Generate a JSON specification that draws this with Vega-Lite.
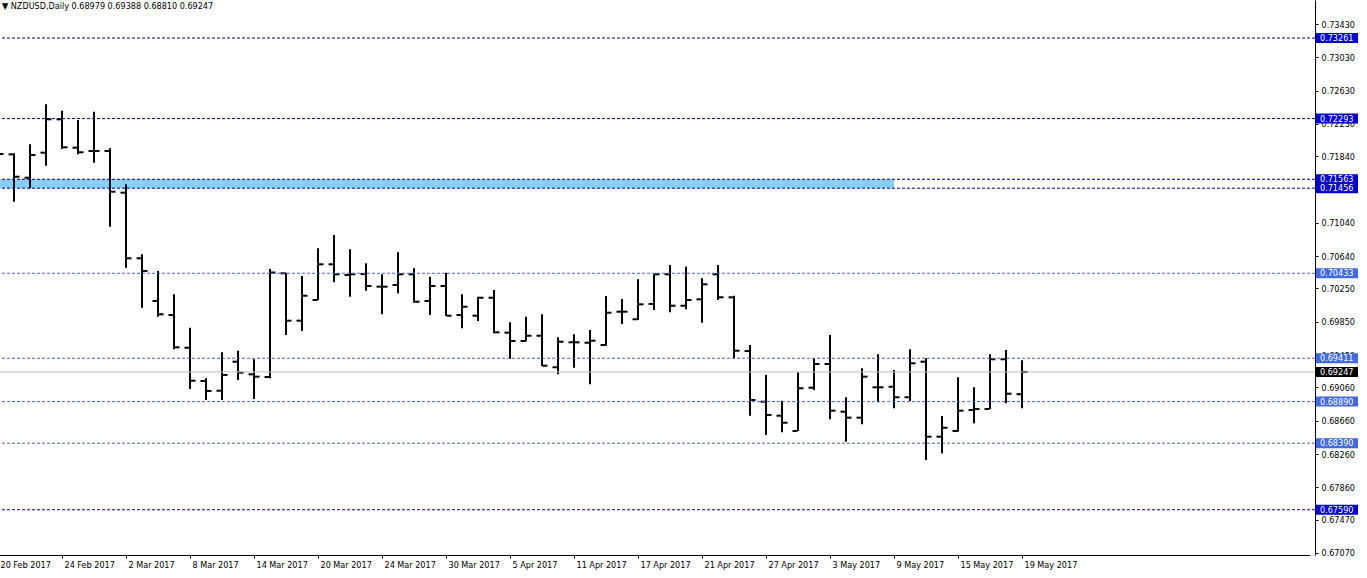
{
 "$schema": "https://vega.github.io/schema/vega-lite/v6.json",
 "width": 1315,
 "height": 555,
 "autosize": {"type": "none"},
 "padding": {"left": 0, "top": 0, "right": 52, "bottom": 23},
 "background": "white",
 "resolve": {"scale": {"color": "independent"}},
 "config": {
  "view": {"stroke": null},
  "axis": {"labelFont": "DejaVu Sans Condensed, Liberation Sans, sans-serif", "labelFontSize": 9, "labelColor": "black", "domainColor": "black", "tickColor": "black", "grid": false, "title": null, "labelOverlap": false},
  "axisY": {"orient": "right", "format": ".5f", "tickSize": 3, "labelPadding": 3, "labelBaseline": "middle", "labelBound": false, "labelOverlap": false, "labelFlush": false, "domainWidth": 1, "tickWidth": 1}
 },
 "title": {"text": "▼ NZDUSD,Daily  0.68979 0.69388 0.68810 0.69247", "anchor": "start", "frame": "group", "baseline": "top", "offset": -11, "dx": 2, "font": "DejaVu Sans Condensed, Liberation Sans, sans-serif", "fontSize": 9, "fontWeight": "normal", "color": "black"},
 "datasets": {
  "levels": [
   {"p": 0.73261, "kind": "dark"},
   {"p": 0.72293, "kind": "dark"},
   {"p": 0.71563, "kind": "dark"},
   {"p": 0.71456, "kind": "dark"},
   {"p": 0.70433, "kind": "light"},
   {"p": 0.69411, "kind": "light"},
   {"p": 0.68890, "kind": "light"},
   {"p": 0.68390, "kind": "light"},
   {"p": 0.67590, "kind": "dark"}
  ],
  "last": [{"p": 0.69247}],
  "zone": [{"d": "20 Feb 2017", "d2": "9 May 2017", "top": 0.71563, "bottom": 0.71456}],
  "ohlc": [
   {"d": "20 Feb 2017", "o": 0.7178, "h": 0.7195, "l": 0.7168, "c": 0.71867},
   {"d": "21 Feb 2017", "o": 0.71863, "h": 0.71876, "l": 0.71294, "c": 0.71594},
   {"d": "22 Feb 2017", "o": 0.71582, "h": 0.71984, "l": 0.71455, "c": 0.71855},
   {"d": "23 Feb 2017", "o": 0.71883, "h": 0.72465, "l": 0.71726, "c": 0.72284},
   {"d": "24 Feb 2017", "o": 0.72284, "h": 0.72388, "l": 0.71927, "c": 0.71948},
   {"d": "27 Feb 2017", "o": 0.71943, "h": 0.72276, "l": 0.71863, "c": 0.71888},
   {"d": "28 Feb 2017", "o": 0.71903, "h": 0.72376, "l": 0.71763, "c": 0.71903},
   {"d": "1 Mar 2017", "o": 0.71903, "h": 0.71936, "l": 0.70993, "c": 0.71414},
   {"d": "2 Mar 2017", "o": 0.71402, "h": 0.71503, "l": 0.70500, "c": 0.70613},
   {"d": "3 Mar 2017", "o": 0.70613, "h": 0.70661, "l": 0.70019, "c": 0.70460},
   {"d": "6 Mar 2017", "o": 0.70100, "h": 0.70460, "l": 0.69911, "c": 0.69940},
   {"d": "7 Mar 2017", "o": 0.69931, "h": 0.70180, "l": 0.69519, "c": 0.69543},
   {"d": "8 Mar 2017", "o": 0.69538, "h": 0.69779, "l": 0.69042, "c": 0.69141},
   {"d": "9 Mar 2017", "o": 0.69138, "h": 0.69170, "l": 0.68909, "c": 0.69018},
   {"d": "10 Mar 2017", "o": 0.69021, "h": 0.69483, "l": 0.68909, "c": 0.69210},
   {"d": "13 Mar 2017", "o": 0.69370, "h": 0.69502, "l": 0.69150, "c": 0.69238},
   {"d": "14 Mar 2017", "o": 0.69218, "h": 0.69399, "l": 0.68921, "c": 0.69190},
   {"d": "15 Mar 2017", "o": 0.69186, "h": 0.70484, "l": 0.69170, "c": 0.70442},
   {"d": "16 Mar 2017", "o": 0.70433, "h": 0.70440, "l": 0.69691, "c": 0.69863},
   {"d": "17 Mar 2017", "o": 0.69863, "h": 0.70400, "l": 0.69739, "c": 0.70163},
   {"d": "20 Mar 2017", "o": 0.70112, "h": 0.70733, "l": 0.70112, "c": 0.70541},
   {"d": "21 Mar 2017", "o": 0.70541, "h": 0.70893, "l": 0.70325, "c": 0.70421},
   {"d": "22 Mar 2017", "o": 0.70412, "h": 0.70721, "l": 0.70151, "c": 0.70421},
   {"d": "23 Mar 2017", "o": 0.70424, "h": 0.70553, "l": 0.70224, "c": 0.70280},
   {"d": "24 Mar 2017", "o": 0.70272, "h": 0.70421, "l": 0.69940, "c": 0.70272},
   {"d": "27 Mar 2017", "o": 0.70292, "h": 0.70685, "l": 0.70192, "c": 0.70421},
   {"d": "28 Mar 2017", "o": 0.70421, "h": 0.70493, "l": 0.70079, "c": 0.70091},
   {"d": "29 Mar 2017", "o": 0.70100, "h": 0.70392, "l": 0.69931, "c": 0.70280},
   {"d": "30 Mar 2017", "o": 0.70280, "h": 0.70440, "l": 0.69919, "c": 0.69923},
   {"d": "31 Mar 2017", "o": 0.69931, "h": 0.70180, "l": 0.69771, "c": 0.70031},
   {"d": "3 Apr 2017", "o": 0.69923, "h": 0.70151, "l": 0.69859, "c": 0.70139},
   {"d": "4 Apr 2017", "o": 0.70139, "h": 0.70232, "l": 0.69711, "c": 0.69723},
   {"d": "5 Apr 2017", "o": 0.69719, "h": 0.69844, "l": 0.69402, "c": 0.69619},
   {"d": "6 Apr 2017", "o": 0.69619, "h": 0.69911, "l": 0.69613, "c": 0.69682},
   {"d": "7 Apr 2017", "o": 0.69682, "h": 0.69940, "l": 0.69318, "c": 0.69322},
   {"d": "10 Apr 2017", "o": 0.69303, "h": 0.69663, "l": 0.69218, "c": 0.69610},
   {"d": "11 Apr 2017", "o": 0.69603, "h": 0.69699, "l": 0.69298, "c": 0.69603},
   {"d": "12 Apr 2017", "o": 0.69598, "h": 0.69751, "l": 0.69098, "c": 0.69622},
   {"d": "13 Apr 2017", "o": 0.69571, "h": 0.70160, "l": 0.69562, "c": 0.69959},
   {"d": "14 Apr 2017", "o": 0.69971, "h": 0.70124, "l": 0.69823, "c": 0.69971},
   {"d": "17 Apr 2017", "o": 0.69880, "h": 0.70361, "l": 0.69871, "c": 0.70060},
   {"d": "18 Apr 2017", "o": 0.70064, "h": 0.70421, "l": 0.69991, "c": 0.70421},
   {"d": "19 Apr 2017", "o": 0.70421, "h": 0.70533, "l": 0.69964, "c": 0.70043},
   {"d": "20 Apr 2017", "o": 0.70043, "h": 0.70512, "l": 0.70000, "c": 0.70112},
   {"d": "21 Apr 2017", "o": 0.70120, "h": 0.70373, "l": 0.69839, "c": 0.70300},
   {"d": "24 Apr 2017", "o": 0.70421, "h": 0.70533, "l": 0.70112, "c": 0.70144},
   {"d": "25 Apr 2017", "o": 0.70144, "h": 0.70163, "l": 0.69411, "c": 0.69502},
   {"d": "26 Apr 2017", "o": 0.69498, "h": 0.69571, "l": 0.68721, "c": 0.68909},
   {"d": "27 Apr 2017", "o": 0.68889, "h": 0.69210, "l": 0.68489, "c": 0.68729},
   {"d": "28 Apr 2017", "o": 0.68721, "h": 0.68901, "l": 0.68521, "c": 0.68636},
   {"d": "1 May 2017", "o": 0.68537, "h": 0.69242, "l": 0.68537, "c": 0.69050},
   {"d": "2 May 2017", "o": 0.69057, "h": 0.69411, "l": 0.69030, "c": 0.69342},
   {"d": "3 May 2017", "o": 0.69342, "h": 0.69691, "l": 0.68677, "c": 0.68781},
   {"d": "4 May 2017", "o": 0.68769, "h": 0.68942, "l": 0.68408, "c": 0.68697},
   {"d": "5 May 2017", "o": 0.68697, "h": 0.69291, "l": 0.68617, "c": 0.69190},
   {"d": "8 May 2017", "o": 0.69062, "h": 0.69459, "l": 0.68882, "c": 0.69062},
   {"d": "9 May 2017", "o": 0.69069, "h": 0.69270, "l": 0.68810, "c": 0.68942},
   {"d": "10 May 2017", "o": 0.68942, "h": 0.69519, "l": 0.68897, "c": 0.69351},
   {"d": "11 May 2017", "o": 0.69370, "h": 0.69411, "l": 0.68188, "c": 0.68468},
   {"d": "12 May 2017", "o": 0.68468, "h": 0.68717, "l": 0.68269, "c": 0.68576},
   {"d": "15 May 2017", "o": 0.68537, "h": 0.69182, "l": 0.68528, "c": 0.68781},
   {"d": "16 May 2017", "o": 0.68789, "h": 0.69062, "l": 0.68629, "c": 0.68801},
   {"d": "17 May 2017", "o": 0.68801, "h": 0.69459, "l": 0.68801, "c": 0.69399},
   {"d": "18 May 2017", "o": 0.69399, "h": 0.69511, "l": 0.68870, "c": 0.68985},
   {"d": "19 May 2017", "o": 0.68979, "h": 0.69388, "l": 0.68810, "c": 0.69247}
  ]
 },
 "layer": [
  {
   "encoding": {
    "x": {
     "field": "d", "type": "ordinal",
     "scale": {"type": "point", "padding": 0, "range": [-2, 1310],
      "domain": ["20 Feb 2017","21 Feb 2017","22 Feb 2017","23 Feb 2017","24 Feb 2017","27 Feb 2017","28 Feb 2017","1 Mar 2017","2 Mar 2017","3 Mar 2017","6 Mar 2017","7 Mar 2017","8 Mar 2017","9 Mar 2017","10 Mar 2017","13 Mar 2017","14 Mar 2017","15 Mar 2017","16 Mar 2017","17 Mar 2017","20 Mar 2017","21 Mar 2017","22 Mar 2017","23 Mar 2017","24 Mar 2017","27 Mar 2017","28 Mar 2017","29 Mar 2017","30 Mar 2017","31 Mar 2017","3 Apr 2017","4 Apr 2017","5 Apr 2017","6 Apr 2017","7 Apr 2017","10 Apr 2017","11 Apr 2017","12 Apr 2017","13 Apr 2017","14 Apr 2017","17 Apr 2017","18 Apr 2017","19 Apr 2017","20 Apr 2017","21 Apr 2017","24 Apr 2017","25 Apr 2017","26 Apr 2017","27 Apr 2017","28 Apr 2017","1 May 2017","2 May 2017","3 May 2017","4 May 2017","5 May 2017","8 May 2017","9 May 2017","10 May 2017","11 May 2017","12 May 2017","15 May 2017","16 May 2017","17 May 2017","18 May 2017","19 May 2017","22 May 2017","23 May 2017","24 May 2017","25 May 2017","26 May 2017","29 May 2017","30 May 2017","31 May 2017","1 Jun 2017","2 Jun 2017","5 Jun 2017","6 Jun 2017","7 Jun 2017","8 Jun 2017","9 Jun 2017","12 Jun 2017","13 Jun 2017","14 Jun 2017"]
     },
     "axis": {"orient": "bottom", "values": ["20 Feb 2017","24 Feb 2017","2 Mar 2017","8 Mar 2017","14 Mar 2017","20 Mar 2017","24 Mar 2017","30 Mar 2017","5 Apr 2017","11 Apr 2017","17 Apr 2017","21 Apr 2017","27 Apr 2017","3 May 2017","9 May 2017","15 May 2017","19 May 2017"],
      "labelAngle": 0, "labelAlign": "left", "labelOffset": 2, "labelBaseline": "top", "tickSize": 3, "labelPadding": 2, "labelBound": false, "labelOverlap": false, "labelFlush": false, "domainWidth": 1, "tickWidth": 1}
    }
   },
   "layer": [
    {
     "data": {"name": "zone"},
     "mark": {"type": "rect", "color": "#87cefa", "clip": true},
     "encoding": {
      "x2": {"field": "d2"},
      "y": {"field": "top", "type": "quantitative", "scale": {"domain": [0.670458, 0.737186], "zero": false, "nice": false},
       "axis": {"orient": "right", "values": [0.7343, 0.7303, 0.7263, 0.7223, 0.7184, 0.7144, 0.7104, 0.7064, 0.7025, 0.6985, 0.6945, 0.6906, 0.6866, 0.6826, 0.6786, 0.6747, 0.6707], "format": ".5f", "labelOverlap": false, "labelBound": false, "labelFlush": false, "labelBaseline": "middle", "labelPadding": 3, "tickSize": 3}},
      "y2": {"field": "bottom"}
     }
    },
    {
     "data": {"name": "ohlc"},
     "mark": {"type": "rule", "color": "black", "strokeWidth": 2, "clip": true},
     "encoding": {
      "y": {"field": "h", "type": "quantitative", "scale": {"domain": [0.670458, 0.737186], "zero": false, "nice": false},
       "axis": {"orient": "right", "values": [0.7343, 0.7303, 0.7263, 0.7223, 0.7184, 0.7144, 0.7104, 0.7064, 0.7025, 0.6985, 0.6945, 0.6906, 0.6866, 0.6826, 0.6786, 0.6747, 0.6707], "format": ".5f", "labelOverlap": false, "labelBound": false, "labelFlush": false, "labelBaseline": "middle", "labelPadding": 3, "tickSize": 3}},
      "y2": {"field": "l"}
     }
    },
    {
     "data": {"name": "ohlc"},
     "mark": {"type": "tick", "orient": "horizontal", "color": "black", "size": 5, "thickness": 2, "xOffset": -3, "opacity": 1, "clip": true},
     "encoding": {
      "y": {"field": "o", "type": "quantitative", "scale": {"domain": [0.670458, 0.737186], "zero": false, "nice": false},
       "axis": {"orient": "right", "values": [0.7343, 0.7303, 0.7263, 0.7223, 0.7184, 0.7144, 0.7104, 0.7064, 0.7025, 0.6985, 0.6945, 0.6906, 0.6866, 0.6826, 0.6786, 0.6747, 0.6707], "format": ".5f", "labelOverlap": false, "labelBound": false, "labelFlush": false, "labelBaseline": "middle", "labelPadding": 3, "tickSize": 3}}
     }
    },
    {
     "data": {"name": "ohlc"},
     "mark": {"type": "tick", "orient": "horizontal", "color": "black", "size": 5, "thickness": 2, "xOffset": 3, "opacity": 1, "clip": true},
     "encoding": {
      "y": {"field": "c", "type": "quantitative", "scale": {"domain": [0.670458, 0.737186], "zero": false, "nice": false},
       "axis": {"orient": "right", "values": [0.7343, 0.7303, 0.7263, 0.7223, 0.7184, 0.7144, 0.7104, 0.7064, 0.7025, 0.6985, 0.6945, 0.6906, 0.6866, 0.6826, 0.6786, 0.6747, 0.6707], "format": ".5f", "labelOverlap": false, "labelBound": false, "labelFlush": false, "labelBaseline": "middle", "labelPadding": 3, "tickSize": 3}}
     }
    }
   ]
  },
  {
   "data": {"name": "levels"},
   "mark": {"type": "rule", "strokeDash": [3, 2], "strokeWidth": 1},
   "encoding": {
    "y": {"field": "p", "type": "quantitative", "scale": {"domain": [0.670458, 0.737186], "zero": false, "nice": false},
     "axis": {"orient": "right", "values": [0.7343, 0.7303, 0.7263, 0.7223, 0.7184, 0.7144, 0.7104, 0.7064, 0.7025, 0.6985, 0.6945, 0.6906, 0.6866, 0.6826, 0.6786, 0.6747, 0.6707], "format": ".5f", "labelOverlap": false, "labelBound": false, "labelFlush": false, "labelBaseline": "middle", "labelPadding": 3, "tickSize": 3}},
    "color": {"field": "kind", "type": "nominal", "scale": {"domain": ["dark", "light"], "range": ["#00008b", "#4a64c8"]}, "legend": null}
   }
  },
  {
   "data": {"name": "last"},
   "mark": {"type": "rule", "color": "#c0c0c0", "strokeWidth": 1},
   "encoding": {
    "y": {"field": "p", "type": "quantitative", "scale": {"domain": [0.670458, 0.737186], "zero": false, "nice": false},
     "axis": {"orient": "right", "values": [0.7343, 0.7303, 0.7263, 0.7223, 0.7184, 0.7144, 0.7104, 0.7064, 0.7025, 0.6985, 0.6945, 0.6906, 0.6866, 0.6826, 0.6786, 0.6747, 0.6707], "format": ".5f", "labelOverlap": false, "labelBound": false, "labelFlush": false, "labelBaseline": "middle", "labelPadding": 3, "tickSize": 3}}
   }
  },
  {
   "data": {"name": "levels"},
   "mark": {"type": "rule", "strokeWidth": 10, "strokeCap": "butt", "x": {"expr": "width + 1"}, "x2": {"expr": "width + 43"}, "clip": false},
   "encoding": {
    "y": {"field": "p", "type": "quantitative", "scale": {"domain": [0.670458, 0.737186], "zero": false, "nice": false},
     "axis": {"orient": "right", "values": [0.7343, 0.7303, 0.7263, 0.7223, 0.7184, 0.7144, 0.7104, 0.7064, 0.7025, 0.6985, 0.6945, 0.6906, 0.6866, 0.6826, 0.6786, 0.6747, 0.6707], "format": ".5f", "labelOverlap": false, "labelBound": false, "labelFlush": false, "labelBaseline": "middle", "labelPadding": 3, "tickSize": 3}},
    "stroke": {"field": "kind", "type": "nominal", "scale": {"domain": ["dark", "light"], "range": ["#0000d2", "#4169e1"]}, "legend": null}
   }
  },
  {
   "data": {"name": "last"},
   "mark": {"type": "rule", "strokeWidth": 10, "strokeCap": "butt", "color": "black", "x": {"expr": "width + 1"}, "x2": {"expr": "width + 43"}, "clip": false},
   "encoding": {
    "y": {"field": "p", "type": "quantitative", "scale": {"domain": [0.670458, 0.737186], "zero": false, "nice": false},
     "axis": {"orient": "right", "values": [0.7343, 0.7303, 0.7263, 0.7223, 0.7184, 0.7144, 0.7104, 0.7064, 0.7025, 0.6985, 0.6945, 0.6906, 0.6866, 0.6826, 0.6786, 0.6747, 0.6707], "format": ".5f", "labelOverlap": false, "labelBound": false, "labelFlush": false, "labelBaseline": "middle", "labelPadding": 3, "tickSize": 3}}
   }
  },
  {
   "data": {"name": "levels"},
   "mark": {"type": "text", "color": "white", "align": "left", "baseline": "middle", "x": {"expr": "width + 5"}, "font": "DejaVu Sans Condensed, Liberation Sans, sans-serif", "fontSize": 9},
   "encoding": {
    "y": {"field": "p", "type": "quantitative", "scale": {"domain": [0.670458, 0.737186], "zero": false, "nice": false},
     "axis": {"orient": "right", "values": [0.7343, 0.7303, 0.7263, 0.7223, 0.7184, 0.7144, 0.7104, 0.7064, 0.7025, 0.6985, 0.6945, 0.6906, 0.6866, 0.6826, 0.6786, 0.6747, 0.6707], "format": ".5f", "labelOverlap": false, "labelBound": false, "labelFlush": false, "labelBaseline": "middle", "labelPadding": 3, "tickSize": 3}},
    "text": {"field": "p", "type": "quantitative", "format": ".5f"}
   }
  },
  {
   "data": {"name": "last"},
   "mark": {"type": "text", "color": "white", "align": "left", "baseline": "middle", "x": {"expr": "width + 5"}, "font": "DejaVu Sans Condensed, Liberation Sans, sans-serif", "fontSize": 9},
   "encoding": {
    "y": {"field": "p", "type": "quantitative", "scale": {"domain": [0.670458, 0.737186], "zero": false, "nice": false},
     "axis": {"orient": "right", "values": [0.7343, 0.7303, 0.7263, 0.7223, 0.7184, 0.7144, 0.7104, 0.7064, 0.7025, 0.6985, 0.6945, 0.6906, 0.6866, 0.6826, 0.6786, 0.6747, 0.6707], "format": ".5f", "labelOverlap": false, "labelBound": false, "labelFlush": false, "labelBaseline": "middle", "labelPadding": 3, "tickSize": 3}},
    "text": {"field": "p", "type": "quantitative", "format": ".5f"}
   }
  }
 ]
}
